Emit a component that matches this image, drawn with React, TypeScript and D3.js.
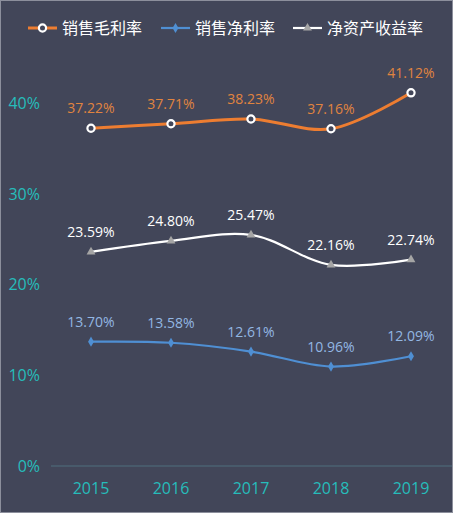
import { useEffect, useRef } from "react"
import * as d3 from "d3"

const years = ["2015", "2016", "2017", "2018", "2019"]
const grossMargin = [37.22, 37.71, 38.23, 37.16, 41.12]
const netMargin = [13.7, 13.58, 12.61, 10.96, 12.09]
const roe = [23.59, 24.8, 25.47, 22.16, 22.74]
const seriesNames = ["销售毛利率", "销售净利率", "净资产收益率"]
const yTicks = [0, 10, 20, 30, 40]

const BG = "#424659"
const TEAL = "#26bdbb"
const NUM_FONT = "'Open Sans', 'Noto Sans CJK SC', sans-serif"
const CJK_FONT = "'Noto Sans CJK SC', sans-serif"

export default function App() {
  const svgRef = useRef<SVGSVGElement>(null)

  useEffect(() => {
    if (!svgRef.current) return
    d3.select(svgRef.current).selectAll("*").remove()

    const svg = d3.select(svgRef.current)

    // background + thin border
    svg
      .append("rect")
      .attr("x", 0.5)
      .attr("y", 0.5)
      .attr("width", 452)
      .attr("height", 512)
      .attr("fill", BG)
      .attr("stroke", "#8c8f9c")
      .attr("stroke-width", 1)

    const x = d3.scalePoint<string>().domain(years).range([51, 451]).padding(0.5)
    const y = d3.scaleLinear().domain([0, 45]).range([466, 57.6])

    // y tick labels
    svg
      .append("g")
      .selectAll("text")
      .data(yTicks)
      .join("text")
      .attr("x", 40)
      .attr("y", (d) => y(d) + 6)
      .attr("text-anchor", "end")
      .attr("fill", TEAL)
      .style("font-family", NUM_FONT)
      .style("font-size", "16px")
      .text((d) => `${d}%`)

    // x axis line
    svg
      .append("line")
      .attr("x1", 51)
      .attr("x2", 452)
      .attr("y1", y(0))
      .attr("y2", y(0))
      .attr("stroke", "#4f6f7e")
      .attr("stroke-width", 1)

    // x labels
    svg
      .append("g")
      .selectAll("text")
      .data(years)
      .join("text")
      .attr("x", (d) => x(d)!)
      .attr("y", 494)
      .attr("text-anchor", "middle")
      .attr("fill", TEAL)
      .style("font-family", NUM_FONT)
      .style("font-size", "16px")
      .text((d) => d)

    const line = d3
      .line<number>()
      .x((_, i) => x(years[i])!)
      .y((d) => y(d))
      .curve(d3.curveCatmullRom.alpha(0.5))

    const series = [
      { name: seriesNames[0], values: grossMargin, color: "#ed7d31", width: 3, label: "#e0843f", marker: "circle" },
      { name: seriesNames[1], values: netMargin, color: "#4f8fd3", width: 2.2, label: "#93b7e3", marker: "diamond" },
      { name: seriesNames[2], values: roe, color: "#ffffff", width: 2.2, label: "#ffffff", marker: "triangle" },
    ]

    const drawMarker = (g: any, kind: string, cx: number, cy: number, color: string) => {
      if (kind === "circle") {
        g.append("circle")
          .attr("cx", cx)
          .attr("cy", cy)
          .attr("r", 3.6)
          .attr("fill", BG)
          .attr("stroke", "#ffffff")
          .attr("stroke-width", 2.2)
      } else if (kind === "diamond") {
        g.append("path")
          .attr("d", d3.symbol(d3.symbolDiamond, 30)()!)
          .attr("transform", `translate(${cx},${cy})`)
          .attr("fill", color)
      } else {
        g.append("path")
          .attr("d", d3.symbol(d3.symbolTriangle, 34)()!)
          .attr("transform", `translate(${cx},${cy})`)
          .attr("fill", "#a5a5a5")
      }
    }

    series.forEach((s) => {
      const g = svg.append("g")
      g.append("path")
        .attr("d", line(s.values)!)
        .attr("fill", "none")
        .attr("stroke", s.color)
        .attr("stroke-width", s.width)
      s.values.forEach((v, i) => {
        drawMarker(g, s.marker, x(years[i])!, y(v), s.color)
        g.append("text")
          .attr("x", x(years[i])!)
          .attr("y", y(v) - 15)
          .attr("text-anchor", "middle")
          .attr("fill", s.label)
          .style("font-family", NUM_FONT)
          .style("font-size", "14px")
          .text(`${v.toFixed(2)}%`)
      })
    })

    // legend
    const legendX = [28, 161, 293]
    series.forEach((s, i) => {
      const lg = svg.append("g").attr("transform", `translate(${legendX[i]},28)`)
      lg.append("line")
        .attr("x1", 0)
        .attr("x2", 29)
        .attr("y1", 0)
        .attr("y2", 0)
        .attr("stroke", s.color)
        .attr("stroke-width", s.width)
      drawMarker(lg, s.marker, 14.5, 0, s.color)
      lg.append("text")
        .attr("x", 34)
        .attr("y", 6)
        .attr("fill", "#ffffff")
        .style("font-family", CJK_FONT)
        .style("font-size", "16px")
        .text(s.name)
    })
  }, [])

  return (
    <svg
      ref={svgRef}
      width={455}
      height={522}
      style={{ position: "absolute", left: 0, top: 0, display: "block" }}
    ></svg>
  )
}
